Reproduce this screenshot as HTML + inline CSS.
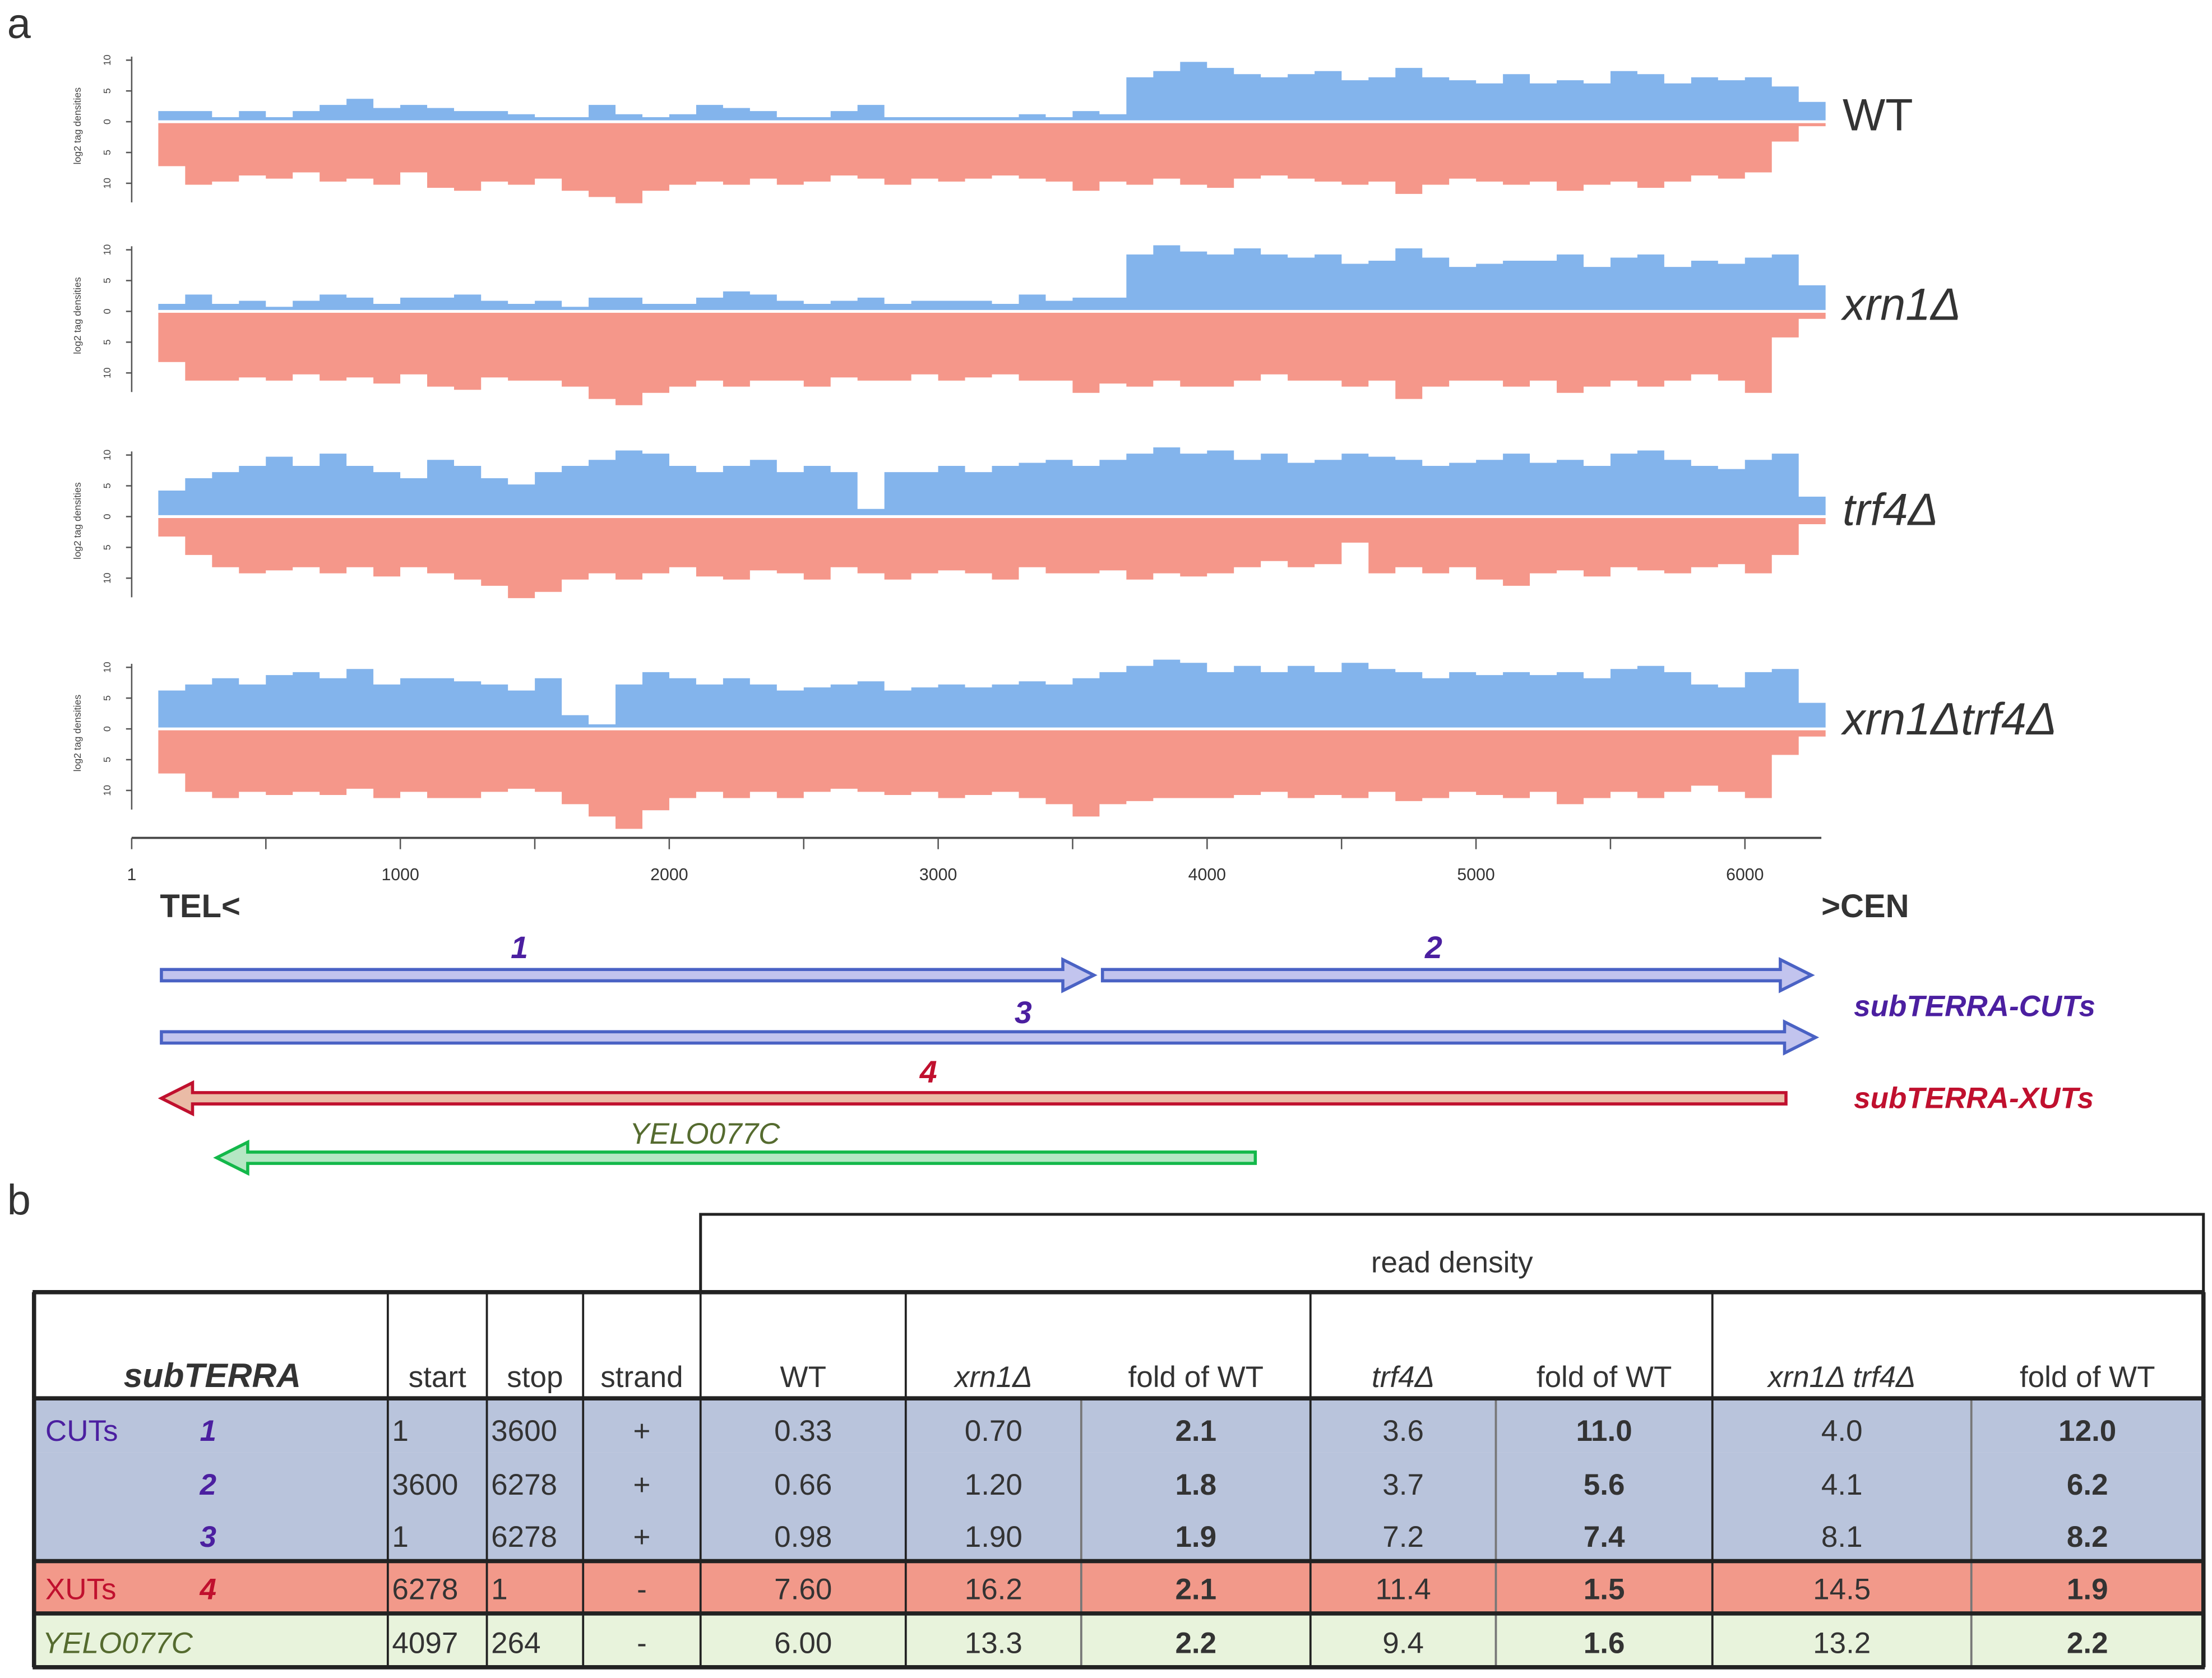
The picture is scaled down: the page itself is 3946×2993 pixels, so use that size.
<!DOCTYPE html>
<html><head><meta charset="utf-8">
<style>
html,body{margin:0;padding:0;background:#fff;}
svg{display:block;}
text{font-family:"Liberation Sans",sans-serif;}
</style></head>
<body>
<svg id="fig" xmlns="http://www.w3.org/2000/svg" width="3946" height="2993" viewBox="0 0 1563 1185.6">
<rect x="0" y="0" width="1563" height="1185.6" fill="#fff"/>
<text x="5" y="27" font-size="30" fill="#333">a</text>
<g id="panels"></g>
<g id="xaxis"></g>
<g>
<text x="113" y="648" font-size="23" font-weight="bold" fill="#333">TEL&lt;</text>
<text x="1287" y="648" font-size="23" font-weight="bold" fill="#333">&gt;CEN</text>
<g id="arrows"></g>
<text x="367" y="677" font-size="22" font-style="italic" font-weight="bold" fill="#4b1fa0" text-anchor="middle">1</text>
<text x="1013" y="677" font-size="22" font-style="italic" font-weight="bold" fill="#4b1fa0" text-anchor="middle">2</text>
<text x="723" y="723" font-size="22" font-style="italic" font-weight="bold" fill="#4b1fa0" text-anchor="middle">3</text>
<text x="656" y="765" font-size="22" font-style="italic" font-weight="bold" fill="#c0102e" text-anchor="middle">4</text>
<text x="498" y="808" font-size="21" font-style="italic" fill="#556b2f" text-anchor="middle">YELO077C</text>
<text x="1310" y="718" font-size="21" font-style="italic" font-weight="bold" fill="#4b1fa0">subTERRA-CUTs</text>
<text x="1310" y="783" font-size="21" font-style="italic" font-weight="bold" fill="#c0102e">subTERRA-XUTs</text>
</g>
<text x="5" y="858" font-size="30" fill="#333">b</text>
<g id="table"></g>
</svg>
<script>
// ---- chart data (log2 tag densities per 100 bp bin, starting at bp 100) ----
const binStart = 100;
const binWidth = 100;
const xTicks = [1, 1000, 2000, 3000, 4000, 5000, 6000];
const yTickLabels = ["10", "5", "0", "5", "10"];
const panelNames = ["WT", "xrn1\u0394", "trf4\u0394", "xrn1\u0394trf4\u0394"];
const wtPos = [1.5,1.5,0.5,1.5,0.5,1.5,2.5,3.5,2,2.5,2,1.5,1.5,1,0.5,0.5,2.5,1,0.5,1,2.5,2,1.5,0.5,0.5,1.5,2.5,0.5,0.5,0.5,0.5,0.5,1,0.5,1.5,1,7,8,9.5,8.5,7.5,7,7.5,8,6.5,7,8.5,7,6.5,6,7.5,6,6.5,6,8,7.5,6,7,6.5,7,5.5,3];
const wtNeg = [7,10,9.5,8.5,9,8,9.5,9,10,8,10.5,11,9.5,10,9,11,12,13,11,10,9.5,10,9,10,9.5,8.5,9,10,9,9.5,9,8.5,9,9.5,11,9.5,10,9,10,10.5,9,8.5,9,9.5,10,9.5,11.5,10,9,9.5,10,9.5,11,10,9.5,10.5,9.5,8.5,9,8,3,0.5];
const xrnPos = [1,2.5,1,1.5,0.5,1.5,2.5,2,1,2,2,2.5,1.5,1,1.5,0.5,2,2,1,1,2,3,2.5,1.5,1,1.5,2,1,1.5,1.5,1.5,1,2.5,1.5,2,2,9,10.5,9.5,9,10,9,8.5,9,7.5,8,10,8.5,7,7.5,8,8,9,7,8.5,9,7,8,7.5,8.5,9,4];
const xrnNeg = [8,11,11,10.5,11,10,11,10.5,11.5,10,12,12.5,10.5,11,11,12,14,15,13,12,11,12,11,11,12,10.5,11,11,10,11,10.5,10,11,11,13,11.5,12,11,12,12,11,10,11,11,12,11,14,12,11,11,12,11,13,12,11,12,11,10,11,13,4,1];
const trfPos = [4,6,7,8,9.5,8,10,8,7,6,9,8,6,5,7,8,9,10.5,10,8,7,8,9,7,8,7,1,7,7,8,7,8,8.5,9,8,9,10,11,10,10.5,9,10,8.5,9,10,9.5,9,8,8.5,9,10,8.5,9,8,10,10.5,9,8,7.5,9,10,3];
const trfNeg = [3,6,8,9,8.5,8,9,8,9.5,8,9,10,11,13,12,10,9,10,9,8,9.5,10,8.5,9,10,8,9,10,9,8.5,9,10,8,9,9,8.5,10,9,9.5,9,8,7,8,7.5,4,9,8,9,8,10,11,9,8.5,9.5,8,8.5,9,8,7.5,9,6,1];
const dblPos = [6,7,8,7,8.5,9,8,9.5,7,8,8,7.5,7,6,8,2,0.5,7,9,8,7,8,7,6,6.5,7,7.5,6,6.5,7,6.5,7,7.5,7,8,9,10,11,10.5,9,10,9,10,9,10.5,9.5,9,8,9,8.5,9,8.5,9,8,9.5,10,9,7,6.5,9,9.5,4];
const dblNeg = [7,10,11,10,10.5,10,10.5,9.5,11,10,11,11,10,9.5,10,12,14,16,13,11,10,11,10,11,10,9.5,10,10.5,10,11,10.5,10,11,12,14,12,11.5,11,11,11,10.5,10,11,10.5,11,10,11.5,11,10,10.5,11,10,12,11,10,11,10,9,10,11,4,1];
const panelZero = [86, 220, 365, 515];

const NS = "http://www.w3.org/2000/svg";
function mk(tag, attrs, parent){const e=document.createElementNS(NS,tag);for(const k in attrs)e.setAttribute(k,attrs[k]);parent.appendChild(e);return e;}
const xOf = bp => 93 + (bp - 1) * (1233 - 93) / 5999;
const yUnit = 4.35;

const series = [[wtPos, wtNeg],[xrnPos, xrnNeg],[trfPos, trfNeg],[dblPos, dblNeg]];
const panels = document.getElementById('panels');
series.forEach((s, p) => {
  const z = panelZero[p];
  const g = mk('g', {}, panels);
  
  
  [[s[0], -1, '#83b4ec', 'plus-strand-area'], [s[1], 1, '#f5978a', 'minus-strand-area']].forEach(([arr, dir, col, nm]) => {
    let d = 'M' + xOf(binStart) + ' ' + (z + dir*1);
    arr.forEach((v, i) => {
      const x0 = xOf(binStart + i*binWidth), x1 = xOf(binStart + (i+1)*binWidth);
      const y = z + dir*(1 + v*yUnit);
      d += ' L' + x0.toFixed(1) + ' ' + y.toFixed(1) + ' L' + x1.toFixed(1) + ' ' + y.toFixed(1);
    });
    d += ' L' + xOf(binStart + arr.length*binWidth).toFixed(1) + ' ' + (z + dir*1) + ' Z';
    const path = mk('path', {d: d, fill: col}, g);
    
    
  });
  const ax = mk('line', {x1:93, x2:93, y1:z-46, y2:z+57, stroke:'#555', 'stroke-width':1}, g);
  
  
  yTickLabels.forEach((t, i) => {
    const y = z - 43.5 + i*21.75;
    mk('line', {x1:89, x2:93, y1:y, y2:y, stroke:'#555', 'stroke-width':1}, g);
    const tx = mk('text', {x:0, y:0, 'font-size':7, fill:'#444', 'text-anchor':'middle', transform:'translate(78,'+y+') rotate(-90)'}, g);
    tx.textContent = t;
    
    
  });
  const yl = mk('text', {x:0, y:0, 'font-size':7, fill:'#444', 'text-anchor':'middle', transform:'translate(57,'+(z+3)+') rotate(-90)'}, g);
  yl.textContent = 'log2 tag densities';
  
  
  const nm = mk('text', {x:1302, y:z+6 + (p==3?-2:0), 'font-size':32, fill:'#333', 'font-style': p==0?'normal':'italic'}, g);
  nm.textContent = panelNames[p];
  
  
});
const xa = document.getElementById('xaxis');
mk('line', {x1:93, x2:1287, y1:592, y2:592, stroke:'#444', 'stroke-width':1.5}, xa);
for (let bp = 0; bp <= 6000; bp += 500) {
  const x = xOf(Math.max(bp,1));
  mk('line', {x1:x, x2:x, y1:592, y2:600, stroke:'#555', 'stroke-width':1}, xa);
}
xTicks.forEach(t => {
  const tx = mk('text', {x:xOf(t), y:622, 'font-size':12, fill:'#333', 'text-anchor':'middle'}, xa);
  tx.textContent = t;
  
  
});
const ar = document.getElementById('arrows');
function arrow(x0, x1, y, dir, stroke, fill, name){
  const g = mk('g', {}, ar);
  
  
  const h = 4, hh = 11, hl = 22;
  let pts;
  if (dir > 0) pts = [[x0,y-h],[x1-hl,y-h],[x1-hl,y-hh],[x1,y],[x1-hl,y+hh],[x1-hl,y+h],[x0,y+h]];
  else pts = [[x1,y-h],[x0+hl,y-h],[x0+hl,y-hh],[x0,y],[x0+hl,y+hh],[x0+hl,y+h],[x1,y+h]];
  mk('polygon', {points: pts.map(p=>p.join(',')).join(' '), fill: fill, stroke: stroke, 'stroke-width': 2.2}, g);
}
arrow(114, 773, 689, 1, '#4a62c4', '#c2c4ee', 'cut-1-arrow');
arrow(779, 1280, 689, 1, '#4a62c4', '#c2c4ee', 'cut-2-arrow');
arrow(114, 1283, 733, 1, '#4a62c4', '#c2c4ee', 'cut-3-arrow');
arrow(114, 1262, 776, -1, '#c0102e', '#eabba6', 'xut-4-arrow');
arrow(153, 887, 818, -1, '#13b84a', '#b5e7c4', 'yelo077c-arrow');

const tb = document.getElementById('table');
const colX = [24, 274, 344, 412, 495, 640, 764, 926, 1057, 1210, 1393, 1557];
const rowY = [913, 988, 1026, 1064, 1103, 1140, 1178];
const bgs = ['#b9c4dc','#b9c4dc','#b9c4dc','#f2998a','#e8f3dc'];
for (let r = 0; r < 5; r++) mk('rect', {x:24, y:rowY[r+1], width:1533, height:rowY[r+2]-rowY[r+1], fill:bgs[r]}, tb);
mk('rect', {x:495, y:858, width:1062, height:55, fill:'none', stroke:'#222', 'stroke-width':2}, tb);
const rd = mk('text', {x:1026, y:899, 'font-size':21, fill:'#333', 'text-anchor':'middle'}, tb); rd.textContent='read density';
colX.forEach((x, i) => {
  const gray = (i==6||i==8||i==10);
  mk('line', {x1:x, x2:x, y1:913, y2:988, stroke:'#222', 'stroke-width': gray?0:1.5}, tb);
  mk('line', {x1:x, x2:x, y1:988, y2:1178, stroke: gray?'#777':'#222', 'stroke-width': (i==0||i==11)?3:1.5}, tb);
});
mk('line', {x1:24, x2:24, y1:913, y2:988, stroke:'#222', 'stroke-width':3}, tb);
mk('line', {x1:1557, x2:1557, y1:913, y2:988, stroke:'#222', 'stroke-width':3}, tb);
[913, 988, 1103, 1140, 1178].forEach(y => mk('line', {x1:23, x2:1558, y1:y, y2:y, stroke:'#222', 'stroke-width':3}, tb));
function T(x, y, s, opt){const t = mk('text', Object.assign({x:x, y:y, 'font-size':21, fill:'#333'}, opt||{}), tb); t.textContent = s; return t;}
const mid = i => (colX[i]+colX[i+1])/2;
T(150, 980, 'subTERRA', {'font-size':24, 'font-weight':'bold', 'font-style':'italic', 'text-anchor':'middle'});
T(mid(1), 980, 'start', {'text-anchor':'middle'});
T(mid(2), 980, 'stop', {'text-anchor':'middle'});
T(mid(3), 980, 'strand', {'text-anchor':'middle'});
const hdr = ['WT','xrn1\u0394','fold of WT','trf4\u0394','fold of WT','xrn1\u0394 trf4\u0394','fold of WT'];
hdr.forEach((h, i) => T(mid(4+i), 980, h, {'text-anchor':'middle', 'font-style': (i==1||i==3||i==5)?'italic':'normal'}));
const rowLabels = ['1','2','3','4'];
const starts = ['1','3600','1','6278','4097'];
const stops = ['3600','6278','6278','1','264'];
const strands = ['+','+','+','-','-'];
const wtVals = ['0.33','0.66','0.98','7.60','6.00'];
const xrnVals = ['0.70','1.20','1.90','16.2','13.3'];
const xrnFold = ['2.1','1.8','1.9','2.1','2.2'];
const trfVals = ['3.6','3.7','7.2','11.4','9.4'];
const trfFold = ['11.0','5.6','7.4','1.5','1.6'];
const dblVals = ['4.0','4.1','8.1','14.5','13.2'];
const dblFold = ['12.0','6.2','8.2','1.9','2.2'];
const base = [1018, 1056, 1093, 1130, 1168];
T(32, 1018, 'CUTs', {fill:'#4b1fa0'});
T(32, 1130, 'XUTs', {fill:'#c0102e'});
T(30, 1168, 'YELO077C', {fill:'#556b2f', 'font-style':'italic'});
for (let r = 0; r < 5; r++) {
  const y = base[r];
  if (r < 4) T(147, y, rowLabels[r], {'font-style':'italic', 'font-weight':'bold', 'text-anchor':'middle', fill: r<3?'#4b1fa0':'#c0102e'});
  T(277, y, starts[r]);
  T(347, y, stops[r]);
  T(mid(3), y, strands[r], {'text-anchor':'middle'});
  [wtVals, xrnVals, xrnFold, trfVals, trfFold, dblVals, dblFold].forEach((arr, c) => {
    T(mid(4+c), y, arr[r], {'text-anchor':'middle', 'font-weight': (c==2||c==4||c==6)?'bold':'normal'});
  });
}
</script>
</body></html>
